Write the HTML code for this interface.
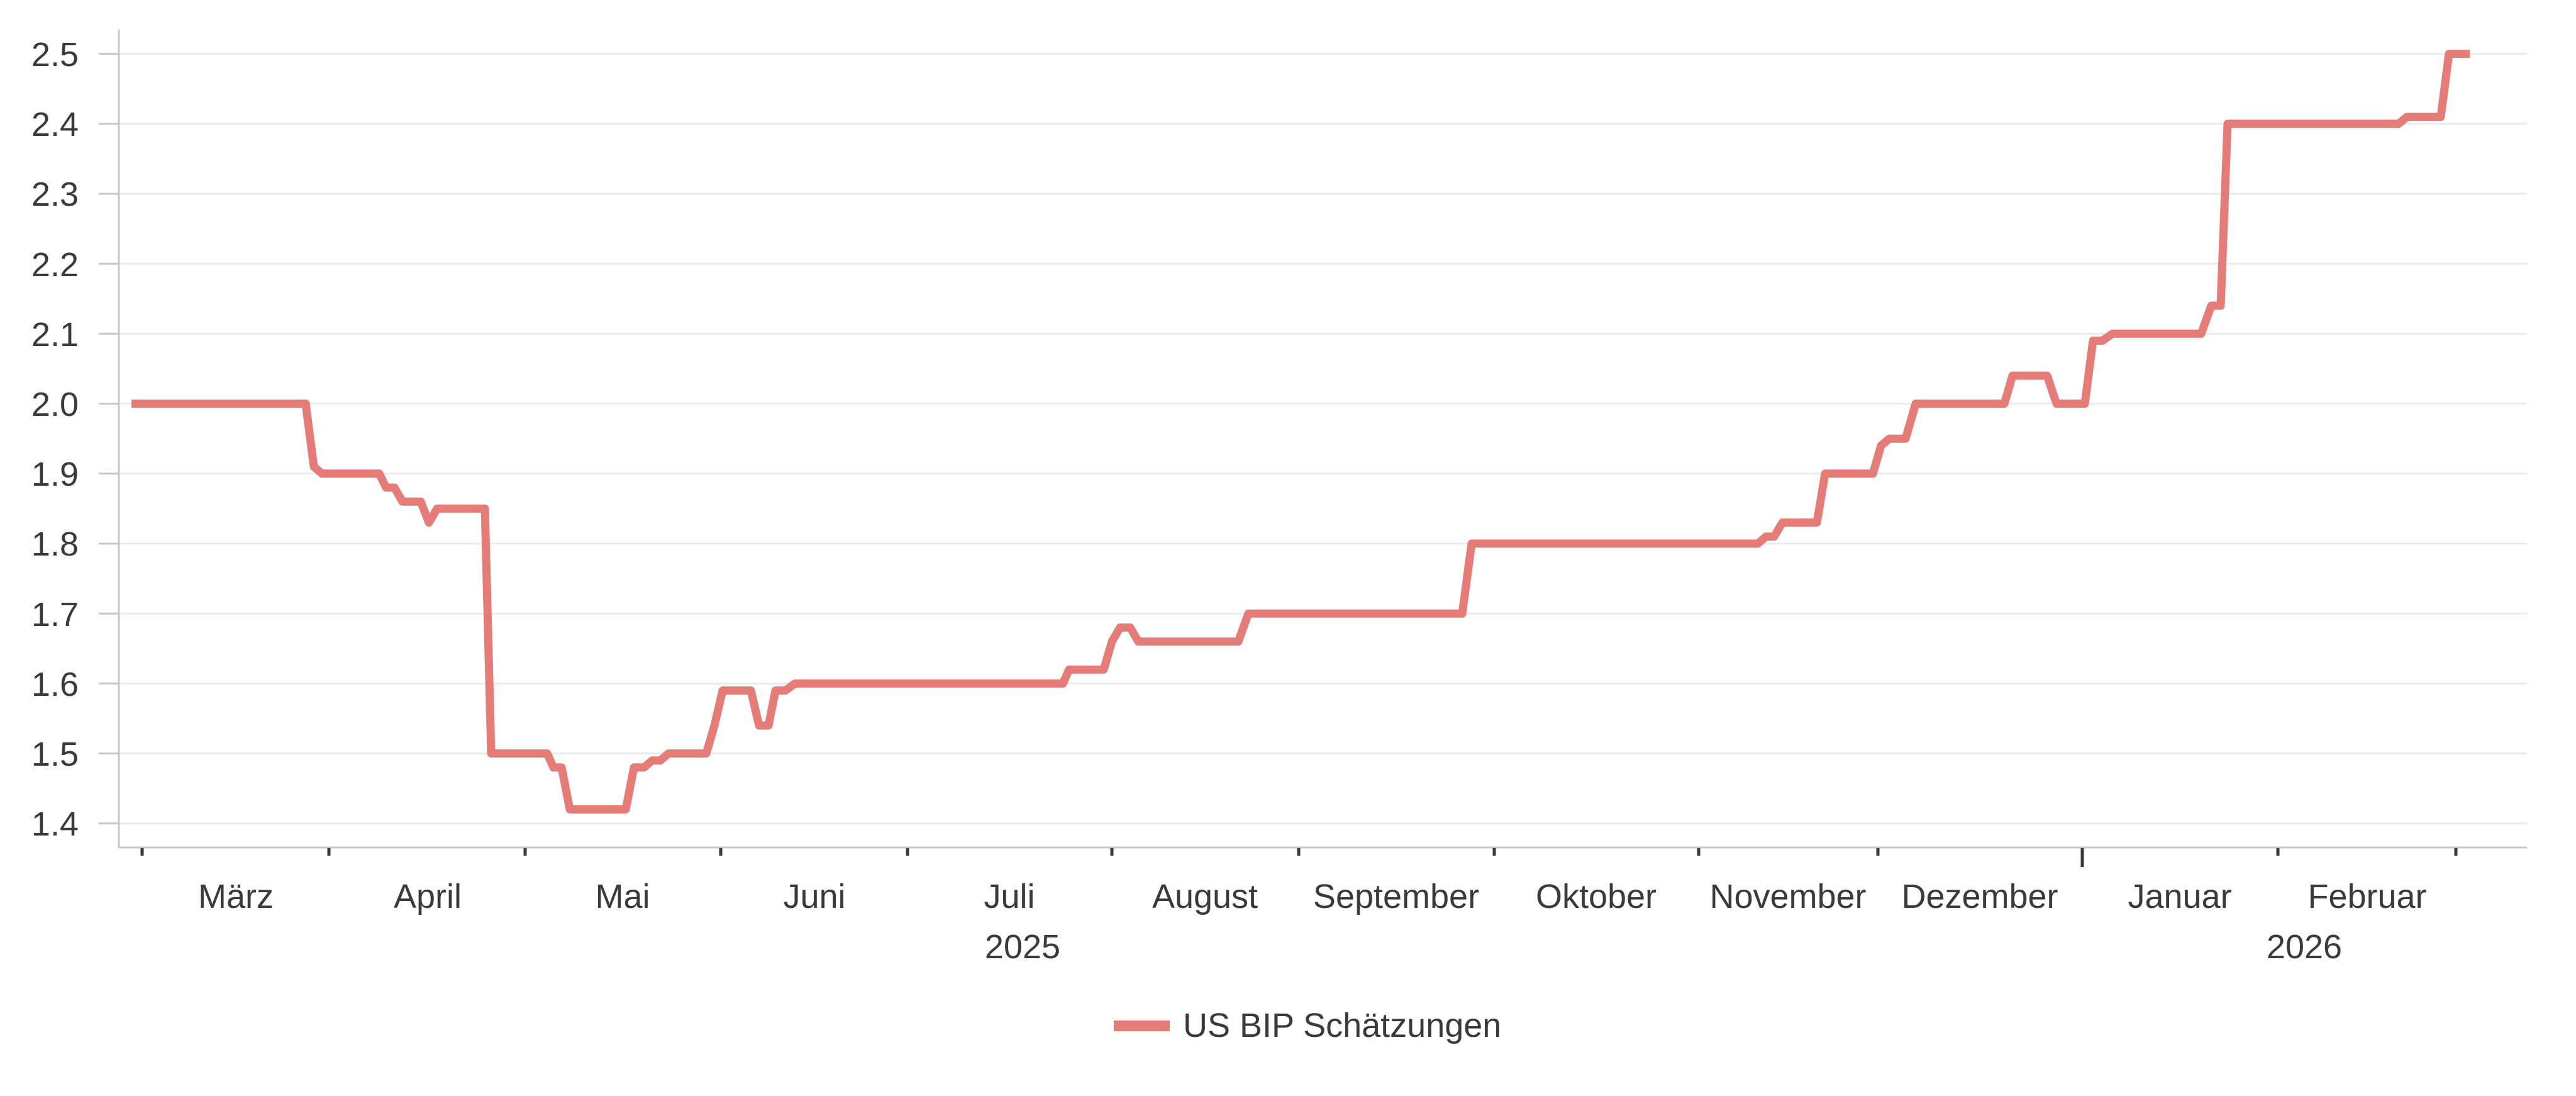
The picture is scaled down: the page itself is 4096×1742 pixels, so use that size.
<!DOCTYPE html>
<html><head><meta charset="utf-8"><style>
html,body{margin:0;padding:0;background:#fff;}
svg{display:block;}
text{font-family:"Liberation Sans",sans-serif;fill:#3a3a3a;}
</style></head><body>
<svg width="4096" height="1742" viewBox="0 0 4096 1742" xmlns="http://www.w3.org/2000/svg">
<g stroke="#ebebeb" stroke-width="3">
<line x1="189" x2="4018" y1="85.6" y2="85.6"/>
<line x1="189" x2="4018" y1="196.8" y2="196.8"/>
<line x1="189" x2="4018" y1="308" y2="308"/>
<line x1="189" x2="4018" y1="419.2" y2="419.2"/>
<line x1="189" x2="4018" y1="530.4" y2="530.4"/>
<line x1="189" x2="4018" y1="641.6" y2="641.6"/>
<line x1="189" x2="4018" y1="752.8" y2="752.8"/>
<line x1="189" x2="4018" y1="864" y2="864"/>
<line x1="189" x2="4018" y1="975.2" y2="975.2"/>
<line x1="189" x2="4018" y1="1086.4" y2="1086.4"/>
<line x1="189" x2="4018" y1="1197.6" y2="1197.6"/>
<line x1="189" x2="4018" y1="1308.8" y2="1308.8"/>
</g>
<g stroke="#c8c8c8" stroke-width="3">
<line x1="157" x2="189" y1="85.6" y2="85.6"/>
<line x1="157" x2="189" y1="196.8" y2="196.8"/>
<line x1="157" x2="189" y1="308" y2="308"/>
<line x1="157" x2="189" y1="419.2" y2="419.2"/>
<line x1="157" x2="189" y1="530.4" y2="530.4"/>
<line x1="157" x2="189" y1="641.6" y2="641.6"/>
<line x1="157" x2="189" y1="752.8" y2="752.8"/>
<line x1="157" x2="189" y1="864" y2="864"/>
<line x1="157" x2="189" y1="975.2" y2="975.2"/>
<line x1="157" x2="189" y1="1086.4" y2="1086.4"/>
<line x1="157" x2="189" y1="1197.6" y2="1197.6"/>
<line x1="157" x2="189" y1="1308.8" y2="1308.8"/>
<line x1="189" x2="189" y1="47" y2="1348"/>
<line x1="189" x2="4018" y1="1347" y2="1347"/>
</g>
<g font-size="54" text-anchor="end">
<text x="125" y="105">2.5</text>
<text x="125" y="216">2.4</text>
<text x="125" y="327">2.3</text>
<text x="125" y="439">2.2</text>
<text x="125" y="550">2.1</text>
<text x="125" y="661">2.0</text>
<text x="125" y="772">1.9</text>
<text x="125" y="883">1.8</text>
<text x="125" y="995">1.7</text>
<text x="125" y="1106">1.6</text>
<text x="125" y="1217">1.5</text>
<text x="125" y="1328">1.4</text>
</g>
<g stroke="#3a3a3a" stroke-width="5">
<line x1="226" x2="226" y1="1348" y2="1360"/>
<line x1="523" x2="523" y1="1348" y2="1360"/>
<line x1="835" x2="835" y1="1348" y2="1360"/>
<line x1="1146" x2="1146" y1="1348" y2="1360"/>
<line x1="1443" x2="1443" y1="1348" y2="1360"/>
<line x1="1768" x2="1768" y1="1348" y2="1360"/>
<line x1="2065" x2="2065" y1="1348" y2="1360"/>
<line x1="2376" x2="2376" y1="1348" y2="1360"/>
<line x1="2701" x2="2701" y1="1348" y2="1360"/>
<line x1="2986" x2="2986" y1="1348" y2="1360"/>
<line x1="3311" x2="3311" y1="1348" y2="1378"/>
<line x1="3622" x2="3622" y1="1348" y2="1360"/>
<line x1="3905" x2="3905" y1="1348" y2="1360"/>
</g>
<g font-size="54" text-anchor="middle">
<text x="375" y="1443">März</text>
<text x="680" y="1443">April</text>
<text x="990" y="1443">Mai</text>
<text x="1295" y="1443">Juni</text>
<text x="1605" y="1443">Juli</text>
<text x="1916" y="1443">August</text>
<text x="2220" y="1443">September</text>
<text x="2538" y="1443">Oktober</text>
<text x="2843" y="1443">November</text>
<text x="3148" y="1443">Dezember</text>
<text x="3466" y="1443">Januar</text>
<text x="3764" y="1443">Februar</text>
<text x="1626" y="1523">2025</text>
<text x="3664" y="1523">2026</text>
</g>
<polyline fill="none" stroke="#e57c78" stroke-width="13" stroke-linejoin="round" points="209,641.6 486,641.6 499,741.7 512,752.8 603,752.8 614,775 627,775 640,797.3 669,797.3 682,830.6 695,808.4 771,808.4 781,1197.6 870,1197.6 880,1219.8 893,1219.8 906,1286.5 995,1286.5 1008,1219.8 1024,1219.8 1037,1208.7 1050,1208.7 1063,1197.6 1123,1197.6 1136,1153.1 1149,1097.5 1194,1097.5 1207,1153.1 1222,1153.1 1233,1097.5 1249,1097.5 1264,1086.4 1690,1086.4 1700,1064.2 1755,1064.2 1768,1019.7 1781,997.4 1797,997.4 1810,1019.7 1969,1019.7 1985,975.2 2325,975.2 2340,864 2795,864 2808,852.9 2821,852.9 2834,830.6 2889,830.6 2902,752.8 2978,752.8 2991,708.3 3004,697.2 3030,697.2 3046,641.6 3187,641.6 3200,597.1 3255,597.1 3270,641.6 3315,641.6 3328,541.5 3343,541.5 3359,530.4 3500,530.4 3516,485.9 3531,485.9 3542,196.8 3814,196.8 3827,185.7 3881,185.7 3894,85.6 3927,85.6"/>
<rect x="1771" y="1622" width="89" height="17" fill="#e57c78"/>
<text x="1881" y="1648" font-size="54">US BIP Schätzungen</text>
</svg>
</body></html>
